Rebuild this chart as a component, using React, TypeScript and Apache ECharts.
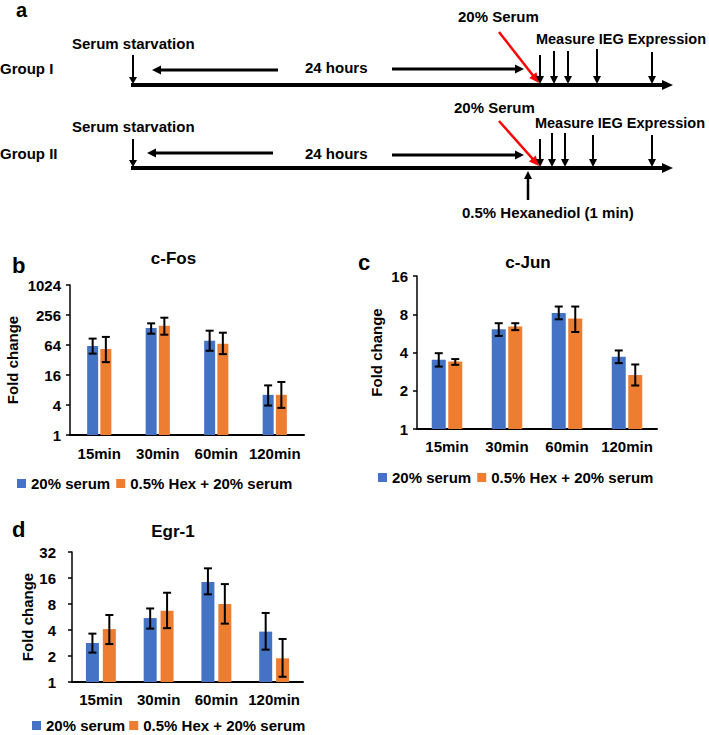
import React, { useEffect, useRef } from "react";
import * as echarts from "echarts";

// ---------- data ----------
const categories = ["15min", "30min", "60min", "120min"];
const legendNames = ["20% serum", "0.5% Hex + 20% serum"];

// c-Fos (panel b)
const fosTicks = [1, 4, 16, 64, 256, 1024];
const fosSerum = [61, 140, 78, 6.4];
const fosSerumLow = [43, 108, 49, 3.9];
const fosSerumHigh = [86, 174, 124, 9.9];
const fosHex = [53, 156, 68, 6.4];
const fosHexLow = [29, 103, 42, 3.5];
const fosHexHigh = [93, 226, 113, 11.6];

// c-Jun (panel c)
const junTicks = [1, 2, 4, 8, 16];
const junSerum = [3.5, 6.1, 8.2, 3.7];
const junSerumLow = [3.1, 5.4, 7.3, 3.3];
const junSerumHigh = [3.95, 6.8, 9.2, 4.15];
const junHex = [3.4, 6.4, 7.4, 2.66];
const junHexLow = [3.2, 6.0, 5.8, 2.2];
const junHexHigh = [3.55, 6.8, 9.2, 3.22];

// Egr-1 (panel d)
const egrTicks = [1, 2, 4, 8, 16, 32];
const egrSerum = [2.83, 5.5, 14.4, 3.83];
const egrSerumLow = [2.19, 4.15, 10.35, 2.37];
const egrSerumHigh = [3.63, 7.1, 20.7, 6.3];
const egrHex = [4.1, 6.7, 8.0, 1.88];
const egrHexLow = [2.75, 4.2, 4.74, 1.15];
const egrHexHigh = [5.97, 10.8, 13.6, 3.15];

// ---------- styles ----------
const FF = '"Liberation Sans", Arial, Helvetica, sans-serif';
const BLUE = "#4472C4";
const ORANGE = "#ED7D31";

function txt(text: string, x: number, y: number, size = 15, align = "left", color = "#000") {
  return {
    type: "text",
    x,
    y,
    silent: true,
    style: {
      text,
      fill: color,
      fontSize: size,
      fontWeight: "bold",
      fontFamily: FF,
      align,
      verticalAlign: "middle",
      textAlign: align,
      textVerticalAlign: "middle",
    },
  };
}

function arrow(
  x1: number, y1: number, x2: number, y2: number,
  color = "#000", lw = 2, hl = 8, hw = 4
) {
  const dx = x2 - x1;
  const dy = y2 - y1;
  const len = Math.sqrt(dx * dx + dy * dy);
  const ux = dx / len;
  const uy = dy / len;
  const bx = x2 - ux * hl;
  const by = y2 - uy * hl;
  const nx = -uy;
  const ny = ux;
  return {
    type: "group",
    silent: true,
    children: [
      {
        type: "line",
        shape: { x1, y1, x2: bx + ux * 1, y2: by + uy * 1 },
        style: { stroke: color, lineWidth: lw },
      },
      {
        type: "polygon",
        shape: {
          points: [
            [x2, y2],
            [bx + nx * hw, by + ny * hw],
            [bx - nx * hw, by - ny * hw],
          ],
        },
        style: { fill: color },
      },
    ],
  };
}

function schematic() {
  const els: any[] = [];
  els.push(txt("a", 16, 10, 20));
  // Group I
  els.push(txt("Group I", 0, 68));
  els.push(txt("Serum starvation", 72, 43));
  els.push(txt("24 hours", 305, 67));
  els.push(txt("20% Serum", 458, 16));
  els.push(txt("Measure IEG Expression", 706, 39, 14.5, "right"));
  els.push(arrow(131, 85, 673, 85, "#000", 4, 11, 5));
  els.push(arrow(133, 55, 133, 84, "#000", 2, 7, 4));
  els.push(arrow(278, 70, 152, 70, "#000", 3, 9, 4.5));
  els.push(arrow(392, 69, 524, 69, "#000", 3, 9, 4.5));
  els.push(arrow(499, 32, 539, 83, "#FF0000", 2.5, 10, 4.5));
  [
    [540, 55], [554, 51], [568, 51], [597, 49], [652, 52],
  ].forEach(([x, y]) => els.push(arrow(x, y, x, 84, "#000", 2, 8, 4)));

  // Group II
  els.push(txt("Group II", 0, 153));
  els.push(txt("Serum starvation", 72, 126));
  els.push(txt("24 hours", 305, 153));
  els.push(txt("20% Serum", 454, 107));
  els.push(txt("Measure IEG Expression", 705, 123, 14.5, "right"));
  els.push(arrow(131, 168, 673, 168, "#000", 4, 11, 5));
  els.push(arrow(133, 139, 133, 167, "#000", 2, 7, 4));
  els.push(arrow(273, 153, 147, 153, "#000", 3, 9, 4.5));
  els.push(arrow(392, 155, 524, 155, "#000", 3, 9, 4.5));
  els.push(arrow(499, 121, 539, 166, "#FF0000", 2.5, 10, 4.5));
  [
    [540, 139], [552, 133], [565, 133], [593, 135], [652, 135],
  ].forEach(([x, y]) => els.push(arrow(x, y, x, 167, "#000", 2, 8, 4)));
  els.push(arrow(528, 200, 528, 171, "#000", 2.5, 8, 4));
  els.push(txt("0.5% Hexanediol (1 min)", 462, 212));

  // panel labels and titles
  els.push(txt("b", 12, 265, 22));
  els.push(txt("c-Fos", 173.5, 258, 17, "center"));
  els.push(txt("c", 358, 262, 22));
  els.push(txt("c-Jun", 528, 262, 17, "center"));
  els.push(txt("d", 12, 529, 22));
  els.push(txt("Egr-1", 173, 531, 17, "center"));
  return els;
}

function errSeries(
  idx: number, low: number[], high: number[], offset: number
) {
  return {
    type: "custom",
    name: "err",
    xAxisIndex: idx,
    yAxisIndex: idx,
    z: 5,
    silent: true,
    data: low.map((l, i) => [i, l, high[i]]),
    encode: { x: 0, y: [1, 2] },
    renderItem: (params: any, api: any) => {
      const c = api.value(0);
      const lo = api.value(1);
      const hi = api.value(2);
      const p1 = api.coord([c, lo]);
      const p2 = api.coord([c, hi]);
      const x = p1[0] + offset;
      const cap = 4;
      const st = { stroke: "#000", lineWidth: 2 };
      return {
        type: "group",
        children: [
          { type: "line", shape: { x1: x, y1: p1[1], x2: x, y2: p2[1] }, style: st },
          { type: "line", shape: { x1: x - cap, y1: p1[1], x2: x + cap, y2: p1[1] }, style: st },
          { type: "line", shape: { x1: x - cap, y1: p2[1], x2: x + cap, y2: p2[1] }, style: st },
        ],
      };
    },
  };
}

function xAxisCfg(idx: number, margin: number) {
  return {
    type: "category",
    gridIndex: idx,
    data: categories,
    axisLine: { show: true, lineStyle: { color: "#000", width: 2 } },
    axisTick: { show: false },
    axisLabel: {
      color: "#000",
      fontSize: 15,
      fontWeight: "bold",
      fontFamily: FF,
      margin,
      interval: 0,
    },
  };
}

function yAxisCfg(idx: number, ticks: number[], base: number, labelMargin: number, nameGap: number) {
  return {
    type: "log",
    gridIndex: idx,
    logBase: base,
    min: ticks[0],
    max: ticks[ticks.length - 1],
    splitNumber: ticks.length - 1,
    axisLine: { show: true, lineStyle: { color: "#000", width: 1.5 } },
    axisTick: { show: true, length: 4, lineStyle: { color: "#000", width: 1.5 } },
    splitLine: { show: false },
    axisLabel: {
      color: "#000",
      fontSize: 15,
      fontWeight: "bold",
      fontFamily: FF,
      margin: labelMargin,
      formatter: (v: number) => String(Math.round(v)),
    },
    name: "Fold change",
    nameLocation: "middle",
    nameRotate: 90,
    nameGap,
    nameTextStyle: { color: "#000", fontSize: 15, fontWeight: "bold", fontFamily: FF },
  };
}

function legendCfg(left: number, top: number, gap: number) {
  return {
    data: legendNames,
    left,
    top,
    padding: 0,
    icon: "rect",
    itemWidth: 9,
    itemHeight: 9,
    itemGap: gap,
    selectedMode: false,
    textStyle: { color: "#000", fontSize: 15, fontWeight: "bold", fontFamily: FF },
  };
}

export default function App() {
  const ref = useRef<HTMLDivElement>(null);
  useEffect(() => {
    if (!ref.current) return;
    const chart = echarts.init(ref.current, null, { renderer: "svg" });
    const bW = [11, 14, 13];
    const bGap = [0.2, 0.18, 0.3];
    const off = bW.map((w, i) => (w + w * bGap[i]) / 2);
    const barSeries = (idx: number, name: string, data: number[], color: string) => ({
      type: "bar",
      name,
      xAxisIndex: idx,
      yAxisIndex: idx,
      data,
      barWidth: bW[idx],
      barGap: `${Math.round(bGap[idx] * 100)}%`,
      itemStyle: { color },
      silent: true,
    });
    const option: any = {
      animation: false,
      textStyle: { fontFamily: FF },
      grid: [
        { left: 70, top: 285, width: 234, height: 150 },
        { left: 417, top: 276, width: 240, height: 153 },
        { left: 72, top: 552, width: 231, height: 130 },
      ],
      xAxis: [xAxisCfg(0, 11), xAxisCfg(1, 10), xAxisCfg(2, 10)],
      yAxis: [
        yAxisCfg(0, fosTicks, 4, 9, 50),
        yAxisCfg(1, junTicks, 2, 9, 33),
        yAxisCfg(2, egrTicks, 2, 16, 33),
      ],
      legend: [legendCfg(17, 476, 6), legendCfg(378, 470, 6), legendCfg(32, 718, 4)],
      series: [
        barSeries(0, legendNames[0], fosSerum, BLUE),
        barSeries(0, legendNames[1], fosHex, ORANGE),
        errSeries(0, fosSerumLow, fosSerumHigh, -off[0]),
        errSeries(0, fosHexLow, fosHexHigh, off[0]),
        barSeries(1, legendNames[0], junSerum, BLUE),
        barSeries(1, legendNames[1], junHex, ORANGE),
        errSeries(1, junSerumLow, junSerumHigh, -off[1]),
        errSeries(1, junHexLow, junHexHigh, off[1]),
        barSeries(2, legendNames[0], egrSerum, BLUE),
        barSeries(2, legendNames[1], egrHex, ORANGE),
        errSeries(2, egrSerumLow, egrSerumHigh, -off[2]),
        errSeries(2, egrHexLow, egrHexHigh, off[2]),
      ],
      graphic: schematic(),
    };
    chart.setOption(option);
    return () => chart.dispose();
  }, []);
  return (
    <div
      ref={ref}
      style={{ position: "absolute", left: 0, top: 0, width: 709, height: 735, background: "#fff" }}
    />
  );
}
